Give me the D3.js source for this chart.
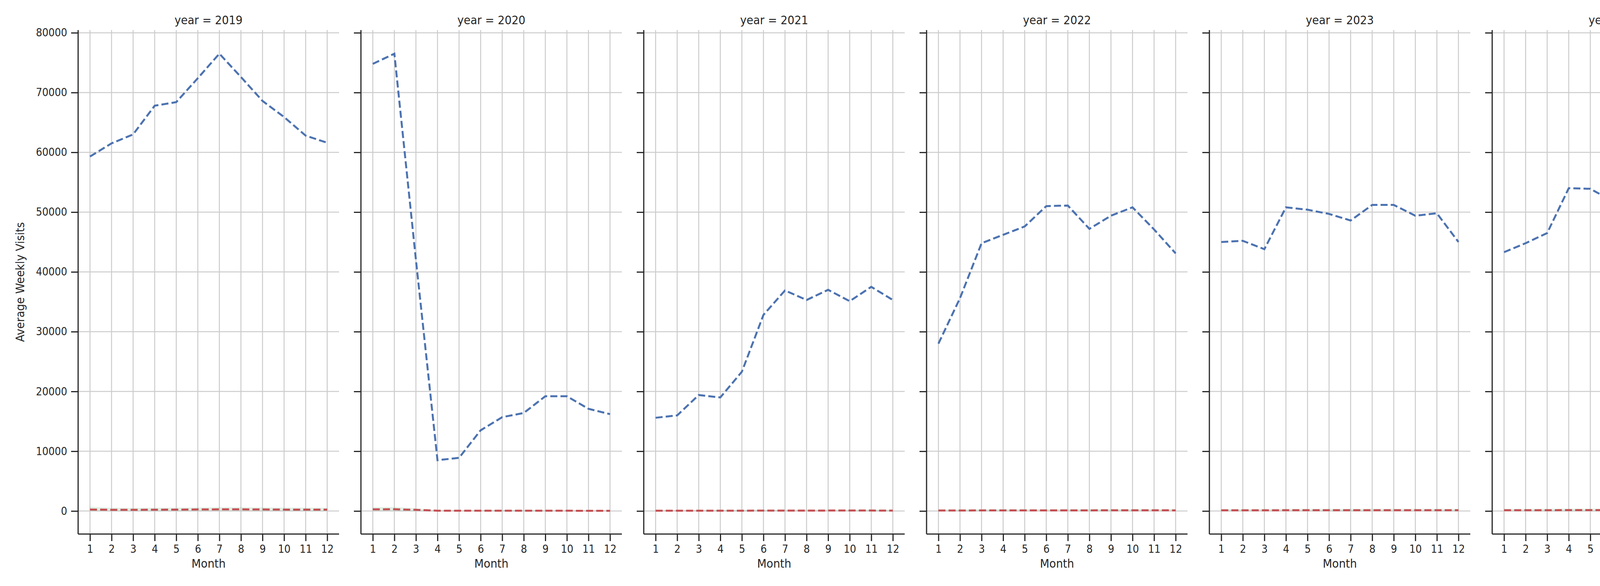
<!DOCTYPE html>
<html>
<head>
<meta charset="utf-8">
<style>
  body { margin:0; background:#fff; }
  text { font-family: "DejaVu Sans Condensed", "DejaVu Sans", sans-serif; fill:#262626; }
  .grid line { stroke:#cccccc; stroke-width:2.5px; }
  .axis path, .axis line { stroke:#262626; stroke-width:3px; }
</style>
<script src="https://cdn.jsdelivr.net/npm/d3@7"></script>
</head>
<body>
<script>
const years = [2019, 2020, 2021, 2022, 2023, 2024, 2025];
const months = [1,2,3,4,5,6,7,8,9,10,11,12];
const yTicks = [0,10000,20000,30000,40000,50000,60000,70000,80000];

// first party median, one array per year
const firstParty = [
  [59300, 61500, 63000, 67800, 68400, 72400, 76500, 72600, 68600, 65900, 62800, 61600],
  [74800, 76500, 42000, 8500, 8900, 13500, 15700, 16400, 19200, 19200, 17100, 16200],
  [15600, 16000, 19400, 19000, 23300, 32800, 36900, 35300, 37000, 35100, 37500, 35300],
  [28000, 35600, 44800, 46200, 47600, 51000, 51100, 47200, 49400, 50800, 47100, 43100],
  [45000, 45200, 43800, 50800, 50400, 49700, 48600, 51200, 51200, 49400, 49800, 45000],
  [43300, 44800, 46500, 54000, 53900, 51900, 49200, 49600, 56200, 57700, 50300, 47200],
  [45900, 49500, 53500, 60400, 58000, 57200]
];
const median = [
  [250, 200, 200, 220, 230, 260, 280, 280, 260, 240, 240, 230],
  [280, 300, 200, 60, 50, 50, 60, 60, 50, 50, 40, 40],
  [60, 60, 60, 60, 60, 70, 70, 70, 80, 80, 80, 70],
  [90, 90, 100, 100, 100, 110, 110, 110, 120, 120, 120, 110],
  [120, 120, 120, 130, 130, 130, 130, 140, 140, 140, 140, 130],
  [130, 130, 140, 150, 150, 150, 150, 150, 160, 160, 160, 150],
  [150, 150, 160, 170, 170, 170]
];
const p25 = [
  [20, 20, 20, 20, 20, 20, 20, 20, 20, 20, 20, 20],
  [20, 20, 10, 5, 5, 5, 5, 5, 5, 5, 5, 5],
  [5, 5, 5, 5, 5, 5, 5, 5, 5, 5, 5, 5],
  [10, 10, 10, 10, 10, 10, 10, 10, 10, 10, 10, 10],
  [10, 10, 10, 10, 10, 10, 10, 10, 10, 10, 10, 10],
  [10, 10, 10, 10, 10, 10, 10, 10, 10, 10, 10, 10],
  [10, 10, 10, 10, 10, 10]
];
const p75 = [
  [700, 550, 520, 540, 560, 600, 640, 640, 600, 570, 560, 540],
  [650, 680, 450, 180, 160, 170, 180, 180, 170, 160, 150, 150],
  [200, 200, 210, 210, 220, 230, 240, 240, 250, 250, 250, 230],
  [280, 290, 300, 310, 310, 320, 330, 330, 340, 340, 340, 320],
  [340, 340, 350, 360, 360, 370, 370, 380, 380, 380, 380, 370],
  [370, 370, 380, 400, 400, 400, 400, 400, 410, 410, 410, 400],
  [400, 400, 410, 420, 420, 420]
];

const W = 5250, H = 1500;
const panelW = 668, left0 = 200, step = 724;
const yTop = 77, yBottom = 1367;

const svg = d3.select("body").append("svg").attr("width", W).attr("height", H);

const y = d3.scaleLinear().domain([-3850, 80450]).range([yBottom, yTop]);

years.forEach((yr, i) => {
  const x0 = left0 + i * step;
  const x = d3.scaleLinear().domain([0.45, 12.55]).range([x0, x0 + panelW]);
  const g = svg.append("g");

  // grid
  const grid = g.append("g").attr("class", "grid");
  grid.selectAll("line.v").data(months).join("line").attr("class", "v")
    .attr("x1", d => x(d)).attr("x2", d => x(d)).attr("y1", yTop).attr("y2", yBottom);
  grid.selectAll("line.h").data(yTicks).join("line").attr("class", "h")
    .attr("x1", x0).attr("x2", x0 + panelW).attr("y1", d => y(d)).attr("y2", d => y(d));

  const ms = months.slice(0, firstParty[i].length);

  // percentile band
  const area = d3.area().x((d, j) => x(ms[j])).y0(d => y(d[0])).y1(d => y(d[1]));
  g.append("path").attr("d", area(p25[i].map((v, j) => [v, p75[i][j]])))
    .attr("fill", "#55a868").attr("fill-opacity", 0.18);

  const line = d3.line().x((d, j) => x(ms[j])).y(d => y(d));
  g.append("path").attr("d", line(median[i]))
    .attr("fill", "none").attr("stroke", "#c44e52").attr("stroke-width", 5).attr("stroke-dasharray", "18,8");
  g.append("path").attr("d", line(firstParty[i]))
    .attr("fill", "none").attr("stroke", "#4c72b0").attr("stroke-width", 5).attr("stroke-dasharray", "18,8");

  // axes
  const xa = g.append("g").attr("class", "axis").attr("transform", `translate(0,${yBottom})`)
    .call(d3.axisBottom(x).tickValues(months).tickSize(18).tickPadding(10).tickSizeOuter(0));
  xa.select(".domain").attr("d", `M${x0},0H${x0 + panelW}`);
  xa.selectAll("text").attr("font-size", 28);

  const ya = g.append("g").attr("class", "axis").attr("transform", `translate(${x0},0)`)
    .call(d3.axisLeft(y).tickValues(yTicks).tickSize(18).tickPadding(10).tickSizeOuter(0)
      .tickFormat(i === 0 ? d3.format("d") : ""));
  ya.select(".domain").attr("d", `M0,${yTop}V${yBottom}`);
  ya.selectAll("text").attr("font-size", 28);

  g.append("text").attr("x", x0 + panelW / 2).attr("y", 62).attr("text-anchor", "middle")
    .attr("font-size", 31).text("year = " + yr);
  g.append("text").attr("x", x0 + panelW / 2).attr("y", 1453).attr("text-anchor", "middle")
    .attr("font-size", 31).text("Month");
});

svg.append("text").attr("transform", `translate(62,${(yTop + yBottom) / 2}) rotate(-90)`)
  .attr("text-anchor", "middle").attr("font-size", 31).text("Average Weekly Visits");

// legend
const leg = svg.append("g").attr("transform", "translate(4754,118)");
leg.append("rect").attr("width", 462).attr("height", 160).attr("rx", 6)
  .attr("fill", "rgba(255,255,255,0.8)").attr("stroke", "#d9d9d9").attr("stroke-width", 2.5);
const items = [
  {label: "Median", color: "#c44e52", type: "line"},
  {label: "First Party Median", color: "#4c72b0", type: "line"},
  {label: "25th-75th Percentile", color: "#55a868", type: "area"}
];
items.forEach((it, k) => {
  const yy = 29 + k * 50;
  if (it.type === "line") {
    leg.append("line").attr("x1", 14).attr("x2", 81).attr("y1", yy).attr("y2", yy)
      .attr("stroke", it.color).attr("stroke-width", 5).attr("stroke-dasharray", "18,8");
  } else {
    leg.append("rect").attr("x", 14).attr("y", yy - 12).attr("width", 67).attr("height", 24)
      .attr("fill", it.color).attr("fill-opacity", 0.18);
  }
  leg.append("text").attr("x", 108).attr("y", yy + 10).attr("font-size", 29).text(it.label);
});
</script>
</body>
</html>
